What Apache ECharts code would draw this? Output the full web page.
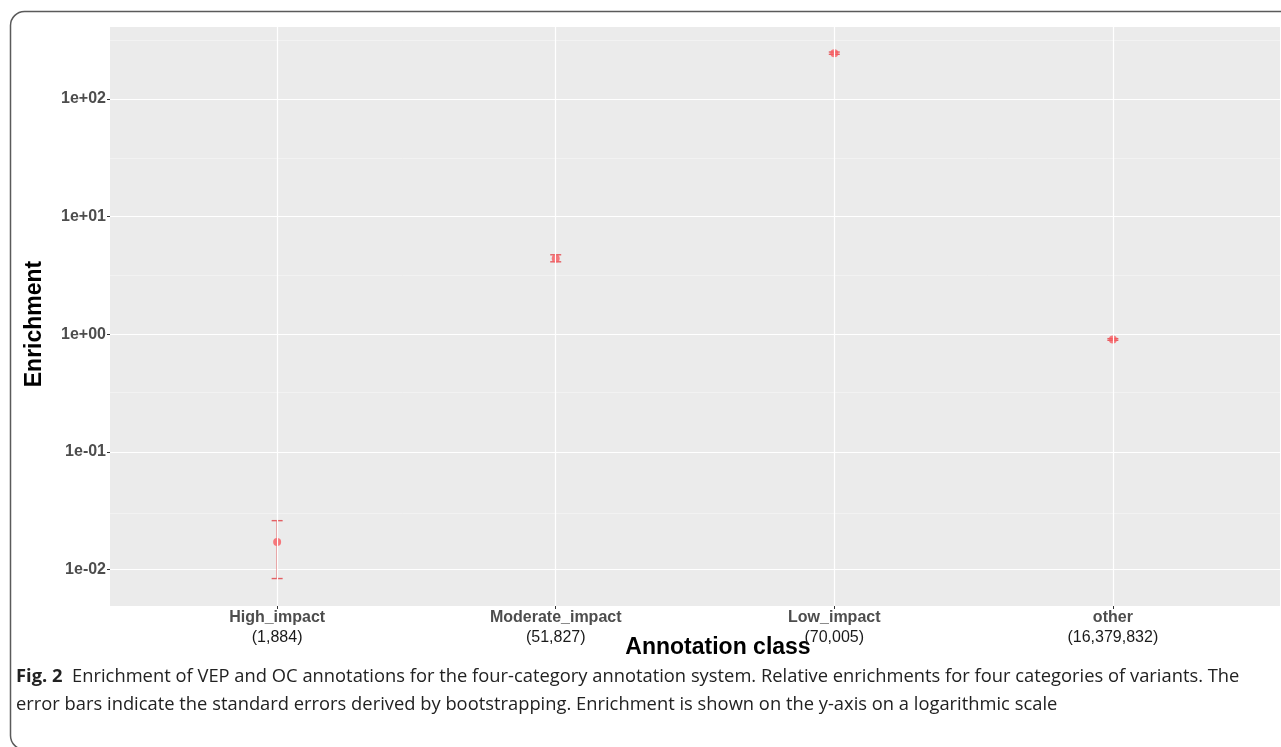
<!DOCTYPE html>
<html>
<head>
<meta charset="utf-8">
<script src="https://cdn.jsdelivr.net/npm/echarts@6/dist/echarts.min.js"></script>
<style>
html,body{margin:0;padding:0;background:#fff;}
#chart{width:1281px;height:747px;}
</style>
</head>
<body>
<div id="chart"></div>
<script>
// ---- data ----
const categories = ['High_impact', 'Moderate_impact', 'Low_impact', 'other'];
const variantCounts = ['1,884', '51,827', '70,005', '16,379,832'];
const enrichment = [0.0171, 4.41, 245, 0.903];
const errLow = [0.00837, 4.13, 240, 0.888];
const errHigh = [0.026, 4.74, 251, 0.918];
const yMajorTicks = [0.01, 0.1, 1, 10, 100];

const xPos = categories.map((c, i) => i + 1);
const pointData = xPos.map((x, i) => [x, enrichment[i]]);
const errData = xPos.map((x, i) => [x, errLow[i], errHigh[i]]);
// ggplot-style minor breaks: geometric midpoints between major breaks (plus one above)
const yMinor = [];
for (let i = 0; i < yMajorTicks.length - 1; i++) yMinor.push(Math.sqrt(yMajorTicks[i] * yMajorTicks[i + 1]));
yMinor.push(yMajorTicks[yMajorTicks.length - 1] * Math.sqrt(10));

function fmtExp(v) {
  const e = Math.round(Math.log10(v));
  const s = e < 0 ? '-' : '+';
  const a = Math.abs(e);
  return '1e' + s + (a < 10 ? '0' + a : a);
}

const chart = echarts.init(document.getElementById('chart'), null, {renderer: 'canvas'});
const option = {
  backgroundColor: '#ffffff',
  animation: false,
  grid: {
    left: 110, top: 26, right: 1, bottom: 141,
    show: true, backgroundColor: '#EBEBEB', borderWidth: 0
  },
  xAxis: {
    type: 'value', min: 0.4, max: 4.6,
    axisLine: {show: false},
    splitLine: {show: false},
    axisTick: {show: true, customValues: xPos, length: 3, lineStyle: {color: '#333', width: 1}},
    axisLabel: {
      customValues: xPos, margin: 2,
      formatter: function (v) {
        const i = Math.round(v) - 1;
        return '{b|' + categories[i] + '}\n{n|(' + variantCounts[i] + ')}';
      },
      rich: {
        b: {fontFamily: 'Liberation Sans, Arial, sans-serif', fontWeight: 'bold', fontSize: 16, color: '#4D4D4D', lineHeight: 20},
        n: {fontFamily: 'Liberation Sans, Arial, sans-serif', fontSize: 16, color: '#1A1A1A', lineHeight: 20}
      }
    }
  },
  yAxis: {
    type: 'log', logBase: 10, min: 0.00489, max: 417.8,
    axisLine: {show: false},
    axisTick: {show: true, length: 3, lineStyle: {color: '#333', width: 1}},
    splitLine: {show: true, lineStyle: {color: '#ffffff', width: 1.2}},
    axisLabel: {
      showMinLabel: false, showMaxLabel: false, margin: 4,
      fontFamily: 'Liberation Sans, Arial, sans-serif', fontWeight: 'bold', fontSize: 16, color: '#4D4D4D',
      formatter: fmtExp
    }
  },
  series: [
    {
      type: 'line', data: [], silent: true,
      markLine: {
        symbol: 'none', silent: true, label: {show: false},
        lineStyle: {color: '#F5F5F5', width: 0.7, type: 'solid'},
        data: yMinor.map(v => ({yAxis: v}))
      }
    },
    {
      type: 'line', data: [], silent: true,
      markLine: {
        symbol: 'none', silent: true, label: {show: false},
        lineStyle: {color: '#ffffff', width: 1.2, type: 'solid'},
        data: xPos.map(v => ({xAxis: v}))
      }
    },
    {
      type: 'custom',
      data: errData,
      encode: {x: 0, y: [1, 2]},
      renderItem: function (params, api) {
        const x = api.value(0);
        const lo = api.coord([x, api.value(1)]);
        const hi = api.coord([x, api.value(2)]);
        const hw = 5.5;
        const st = {stroke: '#E35F63', lineWidth: 1.4};
        return {
          type: 'group',
          children: [
            {type: 'line', shape: {x1: lo[0], y1: lo[1], x2: hi[0], y2: hi[1]}, style: st},
            {type: 'line', shape: {x1: lo[0] - hw, y1: lo[1], x2: lo[0] + hw, y2: lo[1]}, style: st},
            {type: 'line', shape: {x1: hi[0] - hw, y1: hi[1], x2: hi[0] + hw, y2: hi[1]}, style: st}
          ]
        };
      },
      z: 3
    },
    {
      type: 'scatter', data: pointData, symbol: 'circle', symbolSize: 8,
      itemStyle: {color: '#F85A5F'}, z: 4
    }
  ],
  graphic: [
    {
      type: 'rect', silent: true, z: -1,
      shape: {x: 10.5, y: 11.5, width: 1320, height: 738, r: 14},
      style: {fill: 'none', stroke: '#5A5A5A', lineWidth: 1.5}
    },
    {
      type: 'text', silent: true,
      x: 718, y: 648,
      style: {text: 'Annotation class', align: 'center', verticalAlign: 'middle',
        font: 'bold 23px "Liberation Sans", Arial, sans-serif', fill: '#000'}
    },
    {
      type: 'text', silent: true,
      x: 35, y: 324, rotation: Math.PI / 2,
      style: {text: 'Enrichment', align: 'center', verticalAlign: 'middle',
        font: 'bold 23px "Liberation Sans", Arial, sans-serif', fill: '#000'}
    },
    {
      type: 'text', silent: true,
      x: 16, y: 663, scaleX: 1.019,
      style: {
        text: '{b|Fig. 2}  Enrichment of VEP and OC annotations for the four-category annotation system. Relative enrichments for four categories of variants. The\nerror bars indicate the standard errors derived by bootstrapping. Enrichment is shown on the y-axis on a logarithmic scale',
        verticalAlign: 'top', lineHeight: 28,
        font: '18px "Open Sans", sans-serif', fill: '#222',
        rich: {b: {font: 'bold 18px "Open Sans", sans-serif', fill: '#222', lineHeight: 28}}
      }
    }
  ]
};
chart.setOption(option);
</script>
</body>
</html>
